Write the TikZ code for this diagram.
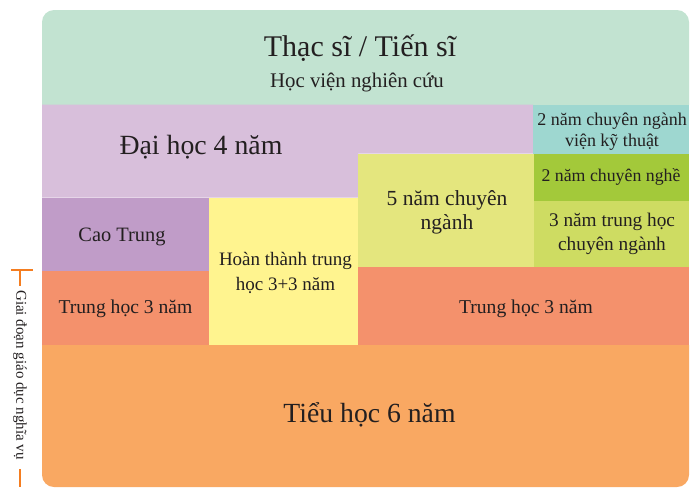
\documentclass[tikz,border=0pt]{standalone}
\usepackage{fontspec}
\setmainfont{Liberation Serif}
\definecolor{topgreen}{HTML}{C2E3D1}
\definecolor{purpleL}{HTML}{D8BFDB}
\definecolor{purpleD}{HTML}{C09CC8}
\definecolor{yellowL}{HTML}{FFF48F}
\definecolor{ygreen}{HTML}{E4E67E}
\definecolor{tealC}{HTML}{9ED7D0}
\definecolor{greenC}{HTML}{A3C93A}
\definecolor{lgreen}{HTML}{CEDC62}
\definecolor{salmon}{HTML}{F4916C}
\definecolor{orangeC}{HTML}{F9A862}
\definecolor{txt}{HTML}{231F20}
\definecolor{brk}{HTML}{F47D20}
\begin{document}
\begin{tikzpicture}[x=1pt,y=-1pt,
  lbl/.style={text=txt,inner sep=0pt,align=center},
  fs/.style 2 args={font=\fontsize{#1}{#2}\selectfont},
  brkline/.style={draw=brk,line width=2pt}]
\useasboundingbox (0,0) rectangle (690,488);
% regions
\fill[topgreen] (42,105) [rounded corners=12pt] -- (42,10) -- (689,10) [sharp corners] -- (689,105) -- cycle;
\fill[purpleL] (42,104.5) -- (533,104.5) -- (533,153.5) -- (358,153.5) -- (358,197.5) -- (42,197.5) -- cycle;
\fill[tealC] (533,104.5) rectangle (689,153.5);
\fill[ygreen] (358,153.5) rectangle (533.5,267);
\fill[greenC] (533.5,153.5) rectangle (689,201);
\fill[lgreen] (533.5,201) rectangle (689,267);
\fill[purpleD] (42,197.5) rectangle (209,270.5);
\fill[yellowL] (209,197.5) rectangle (358,345);
\fill[salmon] (42,270.5) rectangle (209,345);
\fill[salmon] (358,267) rectangle (689,345);
\fill[orangeC] (42,345) [rounded corners=12pt] -- (42,487) -- (689,487) [sharp corners] -- (689,345) -- cycle;
% labels
\node[lbl,fs={30}{36},anchor=base] (ts) at (360,56) {Thạc sĩ / Tiến sĩ};
\node[lbl,fs={20.8}{25},anchor=base] (hv) at (357,87) {Học viện nghiên cứu};
\node[lbl,fs={27.8}{33},anchor=base] (dh) at (201,154) {Đại học 4 năm};
\node[lbl,fs={20.4}{24},anchor=base] (ct) at (122,241) {Cao Trung};
\node[lbl,fs={19}{25.7}] (ht) at (285.5,273) {Hoàn thành trung\\học 3+3 năm};
\node[lbl,fs={21.5}{24}] (nm) at (447,212) {5 năm chuyên\\ngành};
\node[lbl,fs={18}{21}] (vk) at (612,132) {2 năm chuyên ngành\\viện kỹ thuật};
\node[lbl,fs={17.8}{21},anchor=base] (cn) at (611,181) {2 năm chuyên nghề};
\node[lbl,fs={19.3}{24.3}] (th) at (612,234) {3 năm trung học\\chuyên ngành};
\node[lbl,fs={19.6}{24},anchor=base] (tl) at (125.5,313) {Trung học 3 năm};
\node[lbl,fs={19.6}{24},anchor=base] (tr) at (526,313) {Trung học 3 năm};
\node[lbl,fs={27.7}{33},anchor=base] (tu) at (369.5,422) {Tiểu học 6 năm};
\node[lbl,fs={15}{18},rotate=-90] (gd) at (20,375) {Giai đoạn giáo dục nghĩa vụ};
% bracket
\coordinate (b1) at (11,270);
\coordinate (b2) at (33,270);
\coordinate (b3) at (20,270);
\coordinate (b4) at (20,286);
\coordinate (b5) at (20,469);
\coordinate (b6) at (20,487);
\draw[brkline] (b1) -- (b2);
\draw[brkline] (b3) -- (b4);
\draw[brkline] (b5) -- (b6);
\end{tikzpicture}
\end{document}
